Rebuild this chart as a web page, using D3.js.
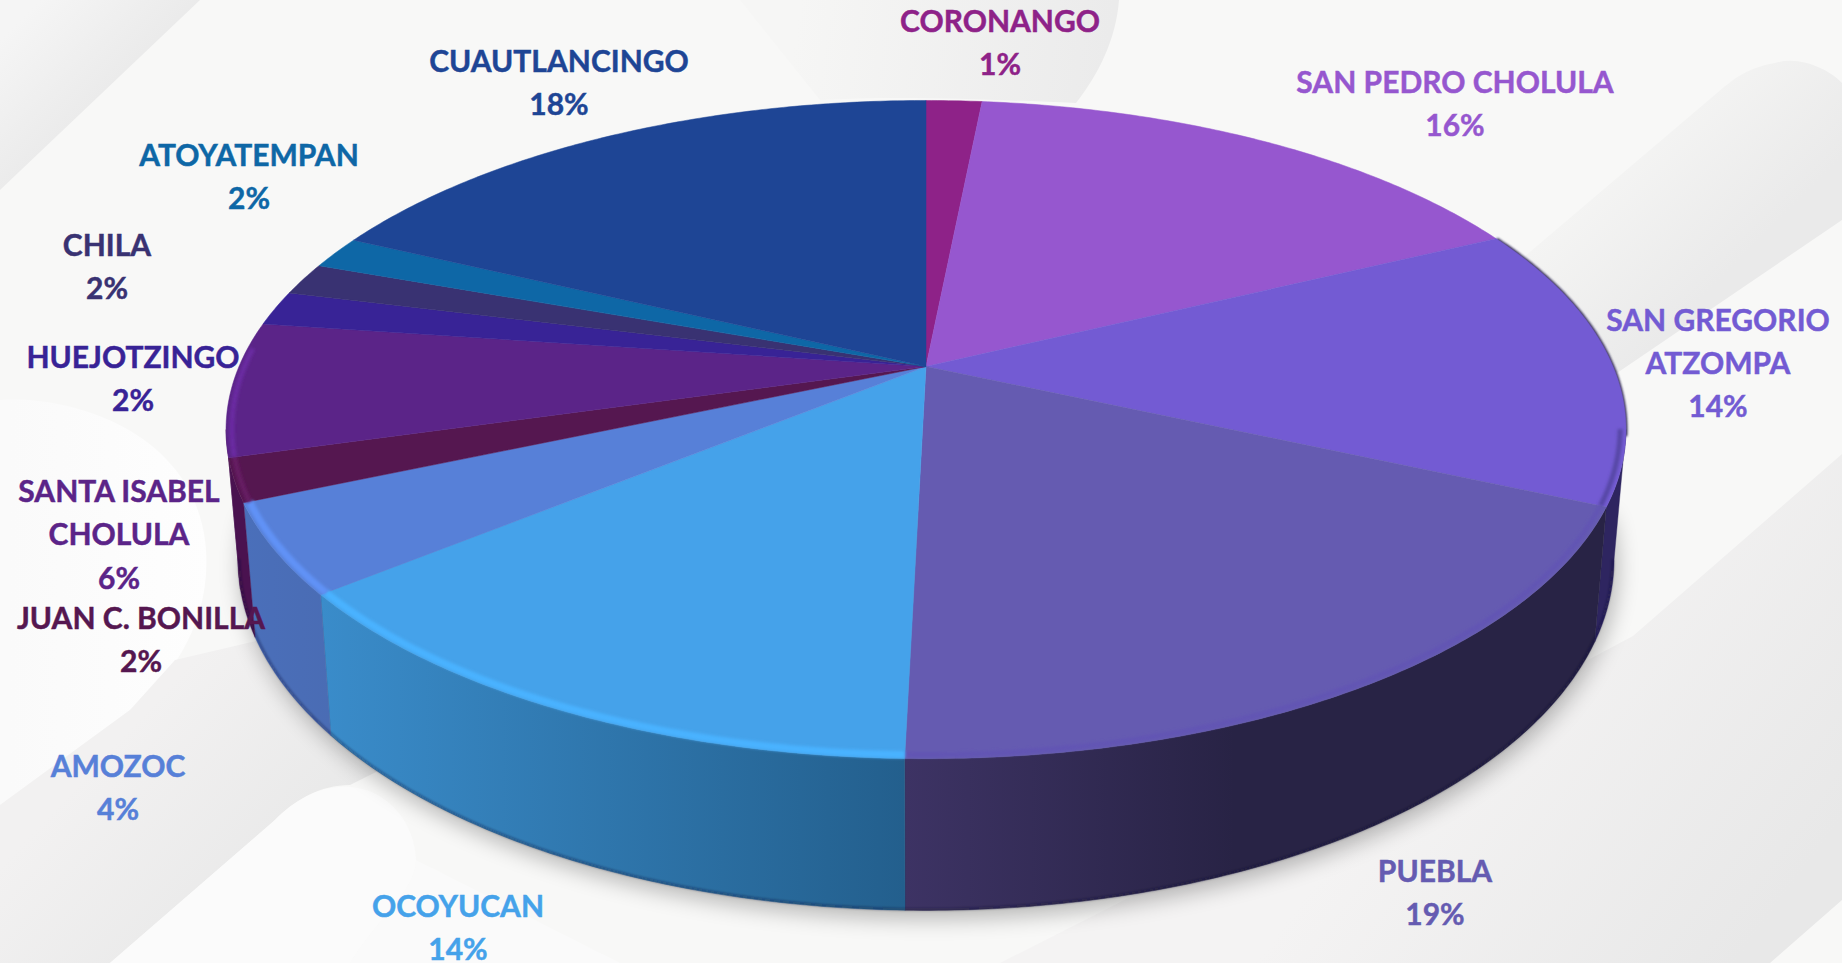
<!DOCTYPE html>
<html><head><meta charset="utf-8">
<script src="https://cdn.jsdelivr.net/npm/d3@7/dist/d3.min.js"></script>
<style>html,body{margin:0;padding:0;background:#f8f8f7;overflow:hidden}svg{display:block}</style>
</head><body><svg id="c" width="1842" height="963"></svg>
<script>
const categories=["CORONANGO","SAN PEDRO CHOLULA","SAN GREGORIO ATZOMPA","PUEBLA","OCOYUCAN","AMOZOC","JUAN C. BONILLA","SANTA ISABEL CHOLULA","HUEJOTZINGO","CHILA","ATOYATEMPAN","CUAUTLANCINGO"];
const labelLines=[["CORONANGO"],["SAN PEDRO CHOLULA"],["SAN GREGORIO","ATZOMPA"],["PUEBLA"],["OCOYUCAN"],["AMOZOC"],["JUAN C. BONILLA"],["SANTA ISABEL","CHOLULA"],["HUEJOTZINGO"],["CHILA"],["ATOYATEMPAN"],["CUAUTLANCINGO"]];
const values=[1.55,16.25,13.9,18.7,13.7,4.4,2.1,6.6,1.7,1.6,1.6,17.9];
const percentLabels=["1%","16%","14%","19%","14%","4%","2%","6%","2%","2%","2%","18%"];
const colors=["#8e2288","#9657cf","#735bd3","#655bb1","#45a2ea","#5780d8","#551750","#5b2488","#382396","#393272","#0e67a6","#1e4595"];
const rimColors=["#8e2288","#9657cf","#5647a6","#6254b4","#4ab2ff","#6092f6","#661a64","#6a2ca2","#382396","#393272","#0e67a6","#1e4595"];
const wallLeft=["#8e2288","#9657cf","#2e2560","#3d3364","#3a8cca","#4a6fba","#4a1250","#4a1250","#382396","#393272","#0e67a6","#1e4595"];
const wallRight=["#8e2288","#9657cf","#2e2560","#282345","#235f8d","#4a6cb4","#4a1250","#4a1250","#382396","#393272","#0e67a6","#1e4595"];
const labelAnchors=[[1000,21],[1455,82],[1718,320],[1435,871],[458,906],[118,766],[141,618],[119,491.5],[133,357.5],[107,245.5],[249,155],[559,61]];

const W=1842,H=963,cx=926,cy=366.5,a=687,b=317,k=0.1916;
const sx=0.983,sy=1.067,cyBottom=492,tau=Math.PI*2;
const top3=(t,r=1)=>{const u=r*Math.sin(t),v=-r*Math.cos(t),w=1-k*v;return [cx+a*u/w,cy+b*v/w];};
const bot3=(t,r=1)=>{const u=r*Math.sin(t),v=-r*Math.cos(t),w=1-k*v;return [cx+sx*a*u/w,cyBottom+sy*b*v/w];};
const samples=(t0,t1)=>{const n=Math.max(2,Math.ceil(Math.abs(t1-t0)/0.01));return d3.range(n+1).map(i=>t0+(t1-t0)*i/n);};
const line=d3.line();
const svg=d3.select("#c");
const defs=svg.append("defs");
const blur=(id,s)=>defs.append("filter").attr("id",id).attr("x","-20%").attr("y","-20%").attr("width","140%").attr("height","140%").append("feGaussianBlur").attr("stdDeviation",s);
blur("b1",1.4);blur("b0",0.8);blur("shadow",11);
const lg=(id,x1,y1,x2,y2,stops)=>{const g=defs.append("linearGradient").attr("id",id).attr("gradientUnits","userSpaceOnUse").attr("x1",x1).attr("y1",y1).attr("x2",x2).attr("y2",y2);stops.forEach(s=>g.append("stop").attr("offset",s[0]).attr("stop-color",s[1]));return `url(#${id})`;};

// background decoration
const bg=svg.append("g");
bg.append("rect").attr("width",W).attr("height",H).attr("fill","#f8f8f7");
bg.append("path").attr("d","M0,0H200L0,190Z").attr("fill",lg("g1",20,20,120,120,[[0,"#f5f5f5"],[1,"#e8e8e8"]]));
bg.append("path").attr("d","M1119,0C1116,40 1098,75 1076,103C1000,100 900,95 820,100L740,0Z").attr("fill",lg("g2",800,0,1110,40,[[0,"#f6f6f5"],[1,"#ebebeb"]]));
bg.append("path").attr("d","M1842,83C1830,70 1800,55 1775,63C1745,68 1730,82 1717,93L1524,257L1617,373L1842,220Z").attr("fill",lg("g3",1640,120,1760,240,[[0,"#f5f5f4"],[1,"#eaeaea"]]));
bg.append("path").attr("d","M1842,454L1633,636L1400,760L1000,963H1770L1842,900Z").attr("fill",lg("g4",1450,700,1760,930,[[0,"#f4f3f3"],[1,"#e8e8e8"]]));
bg.append("path").attr("d","M0,400C70,395 190,430 205,540C215,620 170,680 130,710L0,805Z").attr("fill",lg("g5",10,560,210,560,[[0,"#fafafa"],[1,"#fefefe"]]));
bg.append("path").attr("d","M0,805L130,710L175,660L260,640L400,760L350,785C320,785 295,800 275,820L110,963H0Z").attr("fill",lg("g6",100,760,250,900,[[0,"#f2f1f1"],[1,"#e9e9e9"]]));
bg.append("path").attr("d","M110,963L275,820C295,800 320,785 350,787C390,790 415,825 416,860C416,890 380,915 350,963Z").attr("fill","#fbfbfb");
bg.append("path").attr("d","M350,963C380,915 416,890 416,860L620,963Z").attr("fill","#fafafa");

const pie=d3.pie().sort(null).value(d=>d)(values);
const frontStart=Math.PI*0.5+Math.asin(k),frontEnd=Math.PI*1.5-Math.asin(k);

// ground shadow
svg.append("path").attr("fill","#000").attr("opacity",0.27).attr("filter","url(#shadow)")
  .attr("transform","translate(3,8)")
  .attr("d",line(samples(frontStart-0.15,frontEnd+0.15).map(t=>bot3(t)))+"Z");

// side walls
const wallG=svg.append("g");
pie.forEach((p,i)=>{
  const t0=Math.max(p.startAngle,frontStart),t1=Math.min(p.endAngle,frontEnd);
  if(t1<=t0) return;
  const ts=samples(t0,t1);
  const pts=ts.map(t=>top3(t)).concat(ts.slice().reverse().map(t=>bot3(t)));
  const xs=pts.map(d=>d[0]);
  const xmin=d3.min(xs);
  const xRight=i===3?xmin+330:d3.max(xs);
  wallG.append("path").attr("d",line(pts)+"Z")
    .attr("fill",lg("w"+i,xmin,0,xRight,0,[[0,wallLeft[i]],[1,wallRight[i]]]))
    .attr("stroke",wallRight[i]).attr("stroke-width",0.4);
});
// dark lower rim of walls
svg.append("path").attr("fill","none").attr("stroke","#101030").attr("stroke-opacity",0.35).attr("stroke-width",2.5).attr("filter","url(#b0)")
  .attr("d",line(samples(frontStart,frontEnd).map(t=>bot3(t,0.998))));

// dark edge behind the upper right of the top face
svg.append("path").attr("fill","none").attr("stroke","#2b2450").attr("stroke-width",3).attr("filter","url(#b0)")
  .attr("d",line(samples(1.12,frontStart+0.02).map(t=>top3(t))));

// top face
const topG=svg.append("g");
pie.forEach((p,i)=>{
  const pts=[[cx,cy]].concat(samples(p.startAngle,p.endAngle).map(t=>top3(t)));
  topG.append("path").attr("d",line(pts)+"Z").attr("fill",colors[i]).attr("stroke",colors[i]).attr("stroke-width",0.5);
});

// bevel along the front edge
const rimG=svg.append("g");
pie.forEach((p,i)=>{
  const t0=Math.max(p.startAngle,frontStart),t1=Math.min(p.endAngle,frontEnd+0.25);
  if(t1<=t0) return;
  rimG.append("path").attr("fill","none").attr("stroke",rimColors[i]).attr("stroke-width",i===4||i===5?7:5).attr("filter","url(#b1)")
    .attr("d",line(samples(t0,t1).map(t=>top3(t,0.992))));
});

// labels
const fs=30,lh=43.3;
const lab=svg.append("g").attr("font-family","Lato, 'Open Sans', sans-serif").attr("font-weight",700).attr("font-size",fs).attr("text-anchor","middle");
categories.forEach((c,i)=>{
  const lines=labelLines[i].concat([percentLabels[i]]);
  lines.forEach((s,j)=>{
    lab.append("text").attr("x",labelAnchors[i][0]).attr("y",labelAnchors[i][1]+j*lh+10.5)
      .attr("fill",colors[i]).attr("stroke",colors[i]).attr("stroke-width",0.45).text(s);
  });
});
</script></body></html>
